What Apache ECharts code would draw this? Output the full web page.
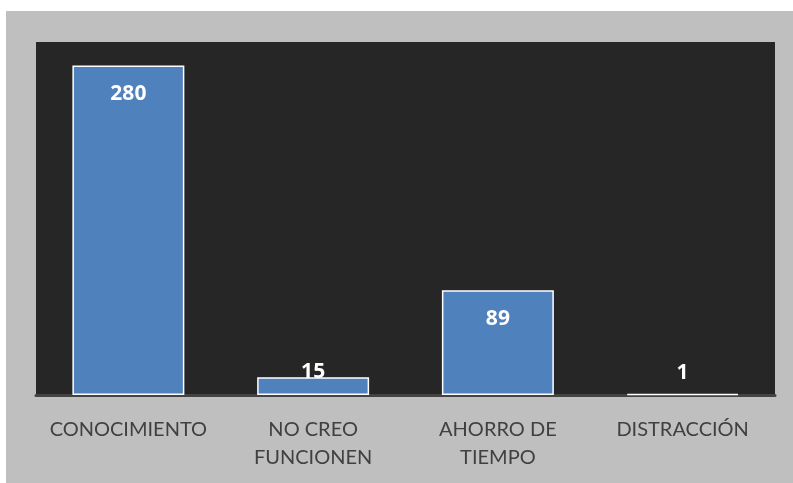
<!DOCTYPE html>
<html>
<head>
<meta charset="utf-8">
<script src="https://cdn.jsdelivr.net/npm/echarts@6/dist/echarts.min.js"></script>
<style>
  html, body { margin: 0; padding: 0; background: #ffffff; }
  .chart-wrap {
    position: absolute;
    left: 6px;
    top: 11px;
    width: 787px;
    height: 472px;
    background: #bfbfbf;
  }
  #chart { width: 100%; height: 100%; }
</style>
</head>
<body>
<div class="chart-wrap"><div id="chart"></div></div>
<script>
  // categorias y valores
  var categories = ['CONOCIMIENTO', 'NO CREO\nFUNCIONEN', 'AHORRO DE\nTIEMPO', 'DISTRACCIÓN'];
  var values = [280, 15, 89, 1];
  // etiquetas pequeñas van abajo (barras muy bajas)
  var smallLimit = 30;

  var chart = echarts.init(document.getElementById('chart'));

  var seriesData = values.map(function (v) {
    var item = { value: v };
    if (v < smallLimit) {
      item.label = { position: 'insideBottom', distance: 12 };
    }
    return item;
  });

  chart.setOption({
    animation: false,
    textStyle: { fontFamily: 'Lato' },
    grid: {
      show: true,
      backgroundColor: '#262626',
      borderWidth: 0,
      left: 30,
      top: 31,
      right: 18,
      bottom: 88
    },
    xAxis: {
      type: 'category',
      data: categories,
      axisTick: { show: false },
      axisLine: {
        lineStyle: { color: '#434343', width: 3 }
      },
      axisLabel: {
        color: '#404040',
        fontSize: 20,
        lineHeight: 28,
        margin: 21,
        interval: 0
      }
    },
    yAxis: {
      type: 'value',
      min: 0,
      max: 300,
      show: false,
      splitLine: { show: false }
    },
    series: [
      {
        type: 'bar',
        data: seriesData,
        barWidth: '60.6%',
        itemStyle: {
          color: '#4f81bd',
          borderColor: '#ffffff',
          borderWidth: 1.5
        },
        label: {
          show: true,
          position: 'insideTop',
          distance: 18,
          color: '#ffffff',
          fontFamily: 'Open Sans',
          fontWeight: 'bold',
          fontSize: 21
        }
      }
    ]
  });
</script>
</body>
</html>
